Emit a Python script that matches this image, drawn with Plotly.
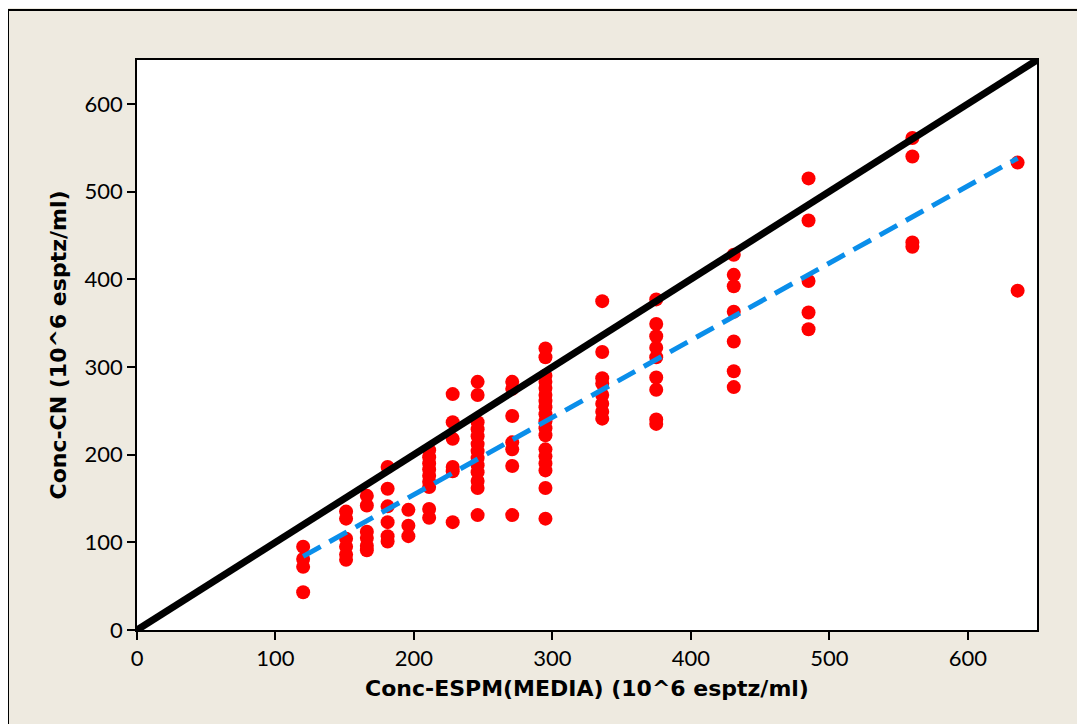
import plotly.graph_objects as go

# x column values (Conc-ESPM MEDIA) and the y values observed at each
x_levels = [120, 151, 166, 181, 196, 211, 228, 246, 271, 295, 336, 375, 431, 485, 560, 636]
y_groups = [
    [95, 81, 72, 43],
    [135, 127, 104, 95, 86, 80],
    [153, 142, 112, 105, 96, 91],
    [186, 161, 141, 123, 107, 101],
    [137, 119, 107],
    [205, 197, 190, 183, 176, 169, 163, 138, 128],
    [269, 237, 218, 186, 181, 123],
    [283, 268, 237, 229, 221, 212, 204, 196, 188, 180, 170, 162, 131],
    [283, 275, 244, 214, 206, 187, 131],
    [321, 311, 290, 283, 276, 268, 261, 254, 246, 238, 230, 222, 206, 198, 190, 182, 162, 127],
    [375, 317, 287, 281, 268, 258, 249, 241],
    [377, 349, 335, 322, 311, 288, 274, 240, 235],
    [428, 405, 392, 363, 329, 295, 277],
    [515, 467, 398, 362, 343],
    [561, 540, 442, 437],
    [533, 387],
]

# identity (y = x) reference line endpoints
ident_x = [0, 650]
ident_y = [0, 650]
# fitted (regression) line endpoints
fit_x = [120, 636]
fit_y = [84, 538]

x_ticks = [0, 100, 200, 300, 400, 500, 600]

xs, ys = [], []
for xv, grp in zip(x_levels, y_groups):
    for yv in grp:
        xs.append(xv)
        ys.append(yv)

fig = go.Figure()
fig.add_trace(go.Scatter(x=xs, y=ys, mode="markers",
                         marker=dict(color="#ff0000", size=14, line=dict(width=0)),
                         showlegend=False, hoverinfo="x+y"))
fig.add_trace(go.Scatter(x=ident_x, y=ident_y, mode="lines",
                         line=dict(color="black", width=7), showlegend=False))
fig.add_trace(go.Scatter(x=fit_x, y=fit_y, mode="lines",
                         line=dict(color="#0a8eea", width=5, dash="20px,10px"),
                         showlegend=False))

axis_common = dict(
    range=[0, 650], tickvals=x_ticks, ticks="outside", ticklen=8, tickwidth=1.5,
    tickcolor="black", showline=True, linecolor="black", linewidth=1.5, mirror=True,
    showgrid=False, zeroline=False,
    tickfont=dict(family="Lato", size=22, color="black"),
)

title_font = dict(family="DejaVu Sans", size=22, color="black", weight="bold")
fig.update_xaxes(**axis_common,
                 title=dict(text="Conc-ESPM(MEDIA) (10^6 esptz/ml)", standoff=10, font=title_font))
fig.update_yaxes(**axis_common,
                 title=dict(text="Conc-CN (10^6 esptz/ml)", standoff=12, font=title_font))

# page has an 8px body margin; figure sized to fit the 1085x724 window
W, H = 1077, 716
L, R, T, B = 129, 48, 52, 94
pw, ph = W - L - R, H - T - B
fig.add_shape(type="rect", xref="paper", yref="paper",
              x0=(0 - L) / pw, x1=(W + 20 - L) / pw,
              y0=-(B + 20) / ph, y1=(H - B - 2) / ph,
              line=dict(color="black", width=2), fillcolor="rgba(0,0,0,0)", layer="below")

fig.update_layout(
    width=W, height=H,
    margin=dict(l=L, r=R, t=T, b=B, autoexpand=False),
    paper_bgcolor="#eeeae0", plot_bgcolor="white",
)

fig.write_html("out.html")
